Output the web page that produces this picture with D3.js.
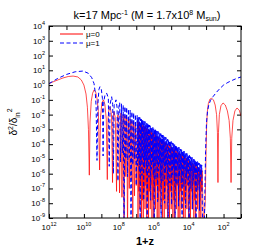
<!DOCTYPE html>
<html>
<head>
<meta charset="utf-8">
<script src="https://cdn.jsdelivr.net/npm/d3@7"></script>
<style>
body { margin: 0; background: #fff; }
text { font-family: "Liberation Sans", Arial, sans-serif; }
</style>
</head>
<body>
<svg width="274" height="247"></svg>
<script>
// tick exponents (powers of ten)
const xTickExps = [12, 11, 10, 9, 8, 7, 6, 5, 4, 3, 2, 1];
const xLabelExps = [12, 10, 8, 6, 4, 2];
const yTickExps = [4, 3, 2, 1, 0, -1, -2, -3, -4, -5, -6, -7, -8, -9];
const seriesNames = ['μ=0', 'μ=1'];

// points: [log10(1+z), log10(delta^2/delta_in^2)]
const mu0Points = [
    [12, 0.1], [11.6, 0.3], [11.2, 0.48], [10.9, 0.58], [10.62, 0.61], [10.35, 0.55], [10.15, 0.35],
    [10.0, 0.0], [9.88, -0.6], [9.8, -1.5], [9.74, -3], [9.69, -6.1], [9.65, -2.5], [9.58, -1.1],
    [9.5, -0.55], [9.42, -0.33], [9.33, -0.45], [9.25, -0.9], [9.17, -1.8], [9.1, -5.75], [9.05, -2.2],
    [8.97, -1.2], [8.88, -1.0], [8.8, -1.3], [8.72, -2.3], [8.66, -6.4], [8.62, -2.3], [8.56, -1.55],
    [8.5, -1.46], [8.42, -2.0], [8.36, -6.6], [8.33, -2.4], [8.28, -1.8], [8.2, -2.2], [8.13, -7.2],
    [8.1, -2.6], [8.05, -2.0], [8.0, -2.6], [7.96, -7.3],
    // dense part
    [7.88, -1.90], [7.82, -7.6], [7.75, -2.00], [7.70, -9.5], [7.65, -2.08], [7.60, -6.2],
    [7.55, -2.16], [7.50, -9.5], [7.45, -2.25], [7.40, -7.0], [7.35, -2.30], [7.30, -6.4],
    [7.25, -2.43], [7.20, -9.5], [7.15, -2.48], [7.10, -7.5], [7.05, -2.60], [7.00, -6.8],
    [6.925, -2.46], [6.90, -9.5], [6.875, -2.50], [6.85, -7.2], [6.825, -2.55], [6.80, -8.4],
    [6.775, -2.59], [6.75, -6.8], [6.725, -2.64], [6.70, -9.5], [6.675, -2.68], [6.65, -7.8],
    [6.625, -2.73], [6.60, -9.5], [6.575, -2.77], [6.55, -7.2], [6.525, -2.82], [6.50, -8.4],
    [6.475, -2.86], [6.45, -6.8], [6.425, -2.91], [6.40, -9.5], [6.375, -2.95], [6.35, -7.8],
    [6.325, -3.00], [6.30, -9.5], [6.275, -3.04], [6.25, -7.2], [6.225, -3.09], [6.20, -8.4],
    [6.175, -3.13], [6.15, -6.8], [6.125, -3.18], [6.10, -9.5], [6.075, -3.22], [6.05, -7.8],
    [6.025, -3.27], [6.00, -9.5], [5.975, -3.31], [5.95, -7.2], [5.925, -3.36], [5.90, -8.4],
    [5.875, -3.40], [5.85, -6.8], [5.825, -3.45], [5.80, -9.5], [5.775, -3.49], [5.75, -7.8],
    [5.725, -3.54], [5.70, -9.5], [5.675, -3.58], [5.65, -7.2], [5.625, -3.63], [5.60, -8.4],
    [5.575, -3.67], [5.55, -6.8], [5.525, -3.72], [5.50, -9.5], [5.475, -3.76], [5.45, -7.8],
    [5.425, -3.81], [5.40, -9.5], [5.375, -3.85], [5.35, -7.2], [5.325, -3.90], [5.30, -8.4],
    [5.275, -3.94], [5.25, -6.8], [5.225, -3.99], [5.20, -9.5], [5.175, -4.03], [5.15, -7.8],
    [5.125, -4.08], [5.10, -9.5], [5.075, -4.12], [5.05, -7.2], [5.025, -4.17], [5.00, -8.4],
    [4.975, -4.21], [4.95, -6.8], [4.925, -4.26], [4.90, -9.5], [4.875, -4.30], [4.85, -7.8],
    [4.825, -4.35], [4.80, -9.5], [4.775, -4.39], [4.75, -7.2], [4.725, -4.44], [4.70, -8.4],
    [4.675, -4.48], [4.65, -6.8], [4.625, -4.53], [4.60, -9.5], [4.575, -4.57], [4.55, -7.8],
    [4.525, -4.62], [4.50, -9.5], [4.475, -4.66], [4.45, -7.2], [4.425, -4.71], [4.40, -8.4],
    [4.375, -4.75], [4.35, -6.8], [4.325, -4.80], [4.30, -9.5], [4.275, -4.84], [4.25, -7.8],
    [4.225, -4.89], [4.20, -9.5], [4.175, -4.93], [4.15, -7.2], [4.125, -4.98], [4.10, -8.4],
    [4.075, -5.02], [4.05, -6.8], [4.025, -5.07], [4.00, -9.5], [3.975, -5.11], [3.95, -7.8],
    [3.925, -5.16], [3.90, -9.5], [3.875, -5.20], [3.85, -7.2], [3.825, -5.25], [3.80, -8.4],
    [3.775, -5.29], [3.75, -6.8], [3.725, -5.34], [3.70, -9.5], [3.675, -5.38], [3.65, -7.8],
    [3.625, -5.43], [3.60, -9.5], [3.575, -5.47], [3.55, -7.2], [3.525, -5.52], [3.50, -8.4],
    [3.475, -5.56], [3.45, -6.8], [3.425, -5.61], [3.40, -9.5], [3.375, -5.65], [3.35, -7.8],
    [3.325, -5.70], [3.30, -9.5], [3.275, -5.74], [3.25, -7.2], [3.225, -5.79], [3.15, -9.5],
    // late arches
    [3.05, -8.0], [3.0, -4.5], [2.97, -2.8], [2.93, -1.8], [2.87, -1.25], [2.78, -0.95], [2.68, -0.9],
    [2.58, -1.0], [2.48, -1.35], [2.40, -2.0], [2.35, -3.2], [2.32, -6.6], [2.29, -3.2], [2.24, -2.0],
    [2.15, -1.4], [2.03, -1.21], [1.9, -1.35], [1.78, -1.75], [1.68, -2.4], [1.61, -3.6], [1.57, -6.6],
    [1.53, -3.6], [1.46, -2.4], [1.35, -1.75], [1.23, -1.55], [1.1, -1.7], [1.0, -2.1]
];

const mu1Points = [
    [12, 0.1], [11.5, 0.45], [11.0, 0.72], [10.5, 0.9], [10.05, 0.95], [9.75, 0.8], [9.55, 0.5],
    [9.42, 0.1], [9.35, -0.5], [9.3, -1.5], [9.25, -5.1], [9.2, -1.3], [9.14, -0.3], [9.08, -0.11],
    [9.0, -0.3], [8.94, -0.9], [8.9, -4.8], [8.86, -1.1], [8.78, -0.6], [8.69, -0.56], [8.6, -0.9],
    [8.55, -5.5], [8.5, -1.3], [8.41, -0.79], [8.35, -1.3], [8.31, -6.0], [8.27, -1.4], [8.16, -1.0],
    [8.1, -1.5], [8.05, -6.5], [8.0, -1.5],
    // dense part
    [7.95, -1.18], [7.90, -5.2], [7.85, -1.27], [7.80, -4.6], [7.75, -1.36], [7.70, -9.5],
    [7.65, -1.45], [7.60, -5.0], [7.55, -1.50], [7.50, -6.2], [7.45, -1.63], [7.40, -4.9],
    [7.35, -1.70], [7.30, -9.5], [7.25, -1.81], [7.20, -5.4], [7.15, -1.88], [7.10, -5.0],
    [7.05, -1.99], [7.00, -6.8],
    [6.95, -2.06], [6.925, -5.45], [6.90, -2.15], [6.875, -4.97], [6.85, -2.17], [6.825, -5.88],
    [6.80, -2.19], [6.775, -9.5], [6.75, -2.29], [6.725, -5.22], [6.70, -2.31], [6.675, -6.13],
    [6.65, -2.33], [6.625, -4.95], [6.60, -2.42], [6.575, -7.8], [6.55, -2.44], [6.525, -5.58],
    [6.50, -2.47], [6.475, -5.09], [6.45, -2.56], [6.425, -6.01], [6.40, -2.58], [6.375, -9.5],
    [6.35, -2.60], [6.325, -5.34], [6.30, -2.69], [6.275, -6.25], [6.25, -2.71], [6.225, -5.07],
    [6.20, -2.74], [6.175, -7.8], [6.15, -2.83], [6.125, -5.70], [6.10, -2.85], [6.075, -5.22],
    [6.05, -2.87], [6.025, -6.13], [6.00, -2.96], [5.975, -9.5], [5.95, -2.98], [5.925, -5.46],
    [5.90, -3.01], [5.875, -6.38], [5.85, -3.10], [5.825, -5.19], [5.80, -3.12], [5.775, -7.9],
    [5.75, -3.14], [5.725, -5.82], [5.70, -3.23], [5.675, -5.34], [5.65, -3.25], [5.625, -6.26],
    [5.60, -3.28], [5.575, -9.5], [5.55, -3.37], [5.525, -5.59], [5.50, -3.39], [5.475, -6.50],
    [5.45, -3.41], [5.425, -5.32], [5.40, -3.50], [5.375, -8.0], [5.35, -3.52], [5.325, -5.95],
    [5.30, -3.55], [5.275, -5.46], [5.25, -3.64], [5.225, -6.38], [5.20, -3.66], [5.175, -9.5],
    [5.15, -3.68], [5.125, -5.71], [5.10, -3.77], [5.075, -6.63], [5.05, -3.79], [5.025, -5.44],
    [5.00, -3.82], [4.975, -8.1], [4.95, -3.91], [4.925, -6.07], [4.90, -3.93], [4.875, -5.59],
    [4.85, -3.95], [4.825, -6.50], [4.80, -4.04], [4.775, -9.5], [4.75, -4.06], [4.725, -5.84],
    [4.70, -4.09], [4.675, -6.75], [4.65, -4.18], [4.625, -5.57], [4.60, -4.20], [4.575, -8.2],
    [4.55, -4.22], [4.525, -6.20], [4.50, -4.31], [4.475, -5.71], [4.45, -4.33], [4.425, -6.63],
    [4.40, -4.36], [4.375, -9.5], [4.35, -4.45], [4.325, -5.96], [4.30, -4.47], [4.275, -6.87],
    [4.25, -4.49], [4.225, -5.69], [4.20, -4.58], [4.175, -8.3], [4.15, -4.60], [4.125, -6.32],
    [4.10, -4.63], [4.075, -5.84], [4.05, -4.72], [4.025, -6.75], [4.00, -4.74], [3.975, -9.5],
    [3.95, -4.76], [3.925, -6.08], [3.90, -4.85], [3.875, -7.00], [3.85, -4.87], [3.825, -5.81],
    [3.80, -4.90], [3.775, -8.4], [3.75, -4.99], [3.725, -6.45], [3.70, -5.01], [3.675, -5.96],
    [3.65, -5.03], [3.625, -6.88], [3.60, -5.12], [3.575, -9.5], [3.55, -5.14], [3.525, -6.21],
    [3.50, -5.17], [3.475, -7.12], [3.45, -5.26], [3.425, -5.94], [3.40, -5.28], [3.375, -8.5],
    [3.35, -5.30], [3.325, -6.57], [3.30, -5.39], [3.275, -6.08], [3.25, -5.41], [3.20, -9.5],
    // late rise
    [3.1, -9.5], [3.03, -4.5], [2.98, -2.6], [2.92, -1.8], [2.85, -1.35], [2.75, -1.05], [2.6, -0.78],
    [2.4, -0.48], [2.2, -0.22], [2.0, 0.0], [1.75, 0.18], [1.5, 0.32], [1.25, 0.45], [1.0, 0.55]
];

let svg = d3.select('svg');
let m = {'l': 49, 'r': 241, 't': 26, 'b': 218};

let x = d3.scaleLog().domain([1e12, 1e1]).range([m.l, m.r]);
let y = d3.scaleLog().domain([1e-9, 1e4]).range([m.b, m.t]);

svg.append('clipPath').attr('id', 'plotClip')
    .append('rect').attr('x', m.l).attr('y', m.t).attr('width', m.r - m.l).attr('height', m.b - m.t);

// axes: ticks inside on all four sides -----------------------------------------
let xTicks = xTickExps.map((e) => Math.pow(10, e));
let yTicks = yTickExps.map((e) => Math.pow(10, e));
let axes = [
    [d3.axisBottom(x).tickValues(xTicks), 'translate(0,' + m.b + ')'],
    [d3.axisTop(x).tickValues(xTicks), 'translate(0,' + m.t + ')'],
    [d3.axisLeft(y).tickValues(yTicks), 'translate(' + m.l + ',0)'],
    [d3.axisRight(y).tickValues(yTicks), 'translate(' + m.r + ',0)']
];
axes.forEach(([ax, tr]) => {
    let g = svg.append('g').attr('transform', tr).call(ax.tickSize(-4).tickFormat(''));
    g.select('.domain').remove();
    g.selectAll('line').attr('stroke', '#000');
});

// lines ----------------------------------------------------------------------
let line = d3.line()
    .x((d) => x(Math.pow(10, d[0])))
    .y((d) => y(Math.pow(10, d[1])));

let plot = svg.append('g').attr('clip-path', 'url(#plotClip)');
plot.append('path').datum(mu0Points)
    .attr('fill', 'none').attr('stroke', '#ff0000').attr('stroke-width', 0.7)
    .attr('d', line);
plot.append('path').datum(mu1Points)
    .attr('fill', 'none').attr('stroke', '#0000ff').attr('stroke-width', 1)
    .attr('stroke-dasharray', '4,2.5')
    .attr('d', line);

svg.append('rect').attr('x', m.l).attr('y', m.t).attr('width', m.r - m.l).attr('height', m.b - m.t)
    .attr('fill', 'none').attr('stroke', '#000').attr('stroke-width', 1);

// tick labels ----------------------------------------------------------------
xLabelExps.forEach((e) => {
    let t = svg.append('text').attr('x', x(Math.pow(10, e))).attr('y', 230)
        .attr('text-anchor', 'middle').attr('font-size', 8);
    t.append('tspan').text('10');
    t.append('tspan').attr('dy', -4).attr('font-size', 5.5).text(e);
});
yTickExps.forEach((e) => {
    let t = svg.append('text').attr('x', 45).attr('y', y(Math.pow(10, e)) + 3)
        .attr('text-anchor', 'end').attr('font-size', 8);
    t.append('tspan').text('10');
    t.append('tspan').attr('dy', -4).attr('font-size', 5.5).text(e);
});

// title and axis titles --------------------------------------------------------
let title = svg.append('text').attr('x', 147).attr('y', 19).attr('text-anchor', 'middle').attr('font-size', 11);
title.append('tspan').text('k=17 Mpc');
title.append('tspan').attr('dy', -4).attr('font-size', 7).text('-1');
title.append('tspan').attr('dy', 4).text(' (M = 1.7x10');
title.append('tspan').attr('dy', -4).attr('font-size', 7).text('8');
title.append('tspan').attr('dy', 4).text(' M');
title.append('tspan').attr('dy', 2).attr('font-size', 7).text('sun');
title.append('tspan').attr('dy', -2).text(')');

svg.append('text').attr('x', (m.l + m.r) / 2).attr('y', 245).attr('text-anchor', 'middle')
    .attr('font-size', 11).attr('font-weight', 'bold').text('1+z');

let yl = svg.append('text').attr('transform', 'translate(17,' + ((m.t + m.b) / 2) + ') rotate(-90)')
    .attr('text-anchor', 'middle').attr('font-size', 10);
yl.append('tspan').text('δ');
yl.append('tspan').attr('dy', -4).attr('font-size', 7).text('2');
yl.append('tspan').attr('dy', 4).text('/δ');
yl.append('tspan').attr('dy', 3).attr('font-size', 7).text('in');
yl.append('tspan').attr('dy', -8).attr('font-size', 7).text('2');

// legend ---------------------------------------------------------------------
let legendStyles = [['#ff0000', null], ['#0000ff', '4,2.5']];
seriesNames.forEach((name, i) => {
    let ly = 34 + i * 9;
    svg.append('line').attr('x1', 60).attr('x2', 83).attr('y1', ly).attr('y2', ly)
        .attr('stroke', legendStyles[i][0]).attr('stroke-width', 1)
        .attr('stroke-dasharray', legendStyles[i][1]);
    svg.append('text').attr('x', 86).attr('y', ly + 3).attr('font-size', 8).text(name);
});
</script>
</body>
</html>
